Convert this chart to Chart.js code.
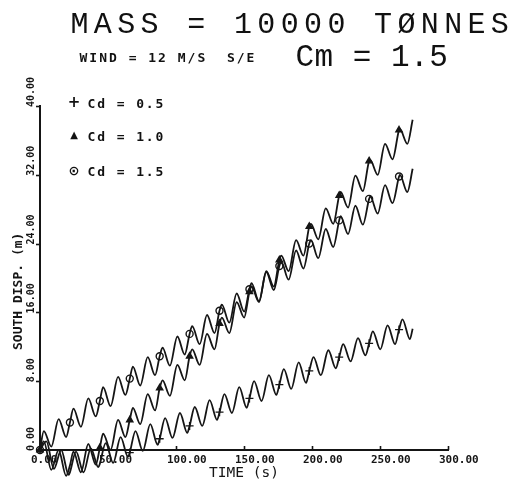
<!DOCTYPE html>
<html><head><meta charset="utf-8">
<script src="https://cdn.jsdelivr.net/npm/chart.js@4/dist/chart.umd.min.js"></script>
<style>
html,body{margin:0;padding:0;background:#fff;}
#wrap{position:relative;width:521px;height:482px;overflow:hidden;background:#fff;}
canvas{position:absolute;left:0;top:0;}
.t{position:absolute;white-space:pre;font-family:'DejaVu Sans Mono',monospace;color:#111;line-height:1;}
.big{font-family:'Liberation Mono','DejaVu Sans Mono',monospace;}
.s{position:absolute;width:16px;text-align:center;font-family:'DejaVu Sans',sans-serif;color:#111;line-height:1;}
</style></head><body>
<div id="wrap">
<canvas id="c" width="521" height="482"></canvas>
<div class="t big" style="left:70.5px;top:9.8px;font-size:30px;letter-spacing:5.35px;">MASS = 10000 TØNNES</div>
<div class="t" style="left:79.5px;top:50.5px;font-size:13px;font-weight:bold;letter-spacing:2px;">WIND = 12 M/S  S/E</div>
<div class="t big" style="left:295.5px;top:41.7px;font-size:31px;letter-spacing:0.5px;">Cm = 1.5</div>
<div class="s" style="left:66px;top:95px;font-size:15px;font-weight:bold;">+</div>
<div class="t" style="left:87.5px;top:96.75px;font-size:13px;font-weight:bold;letter-spacing:1.9px;">Cd = 0.5</div>
<div class="s" style="left:66px;top:130px;font-size:10px;">▲</div>
<div class="t" style="left:87.5px;top:129.75px;font-size:13px;font-weight:bold;letter-spacing:1.9px;">Cd = 1.0</div>
<div class="s" style="left:66px;top:164px;font-size:13px;font-weight:bold;">⊙</div>
<div class="t" style="left:87.5px;top:164.75px;font-size:13px;font-weight:bold;letter-spacing:1.9px;">Cd = 1.5</div>
</div>
<script>
// ---- data ----
const xTickLabels = ['0.00','50.00','100.00','150.00','200.00','250.00','300.00'];
const yTickLabels = ['0.00','8.00','16.00','24.00','32.00','40.00'];

// times (s) of the turning points of the Cd = 1.0 and Cd = 1.5 curves
const timeA = [0, 2.8, 8.3, 13.7, 19.2, 24.6, 30.1, 35.5, 41.0, 46.4,
  51.9, 57.4, 62.8, 68.3, 73.7, 79.2, 84.6, 90.1, 95.5, 101.0,
  106.4, 111.9, 117.4, 122.8, 128.3, 133.7, 139.2, 144.6, 150.1, 155.5,
  161.0, 166.4, 171.9, 177.4, 182.8, 188.3, 193.7, 199.2, 204.6, 210.1,
  215.6, 221.0, 226.5, 231.9, 237.4, 242.8, 248.3, 253.7, 259.2, 264.6,
  270.1, 274];
// south displacement (m), Cd = 1.0
const cd10 = [0, 1.0, -2.3, 0.0, -3.0, -0.2, -2.6, 0.7, -1.7, 1.9,
  0.0, 3.5, 1.5, 4.9, 3.0, 6.5, 4.6, 8.1, 6.3, 9.9,
  8.1, 11.7, 9.9, 13.5, 11.7, 15.4, 13.6, 17.2, 15.4, 19.0,
  17.2, 20.8, 19.0, 22.6, 20.8, 24.4, 22.6, 26.3, 24.5, 28.1,
  26.3, 30.0, 28.2, 31.9, 30.1, 33.7, 32.0, 35.6, 33.8, 37.3,
  35.6, 38.4];
// south displacement (m), Cd = 1.5
const cd15 = [0, 2.2, 0.4, 3.6, 1.5, 4.8, 2.7, 6.0, 3.9, 7.3,
  5.1, 8.5, 6.4, 9.7, 7.5, 10.8, 8.7, 11.9, 9.8, 13.2,
  11.1, 14.4, 12.3, 15.7, 13.6, 16.9, 14.8, 18.2, 16.1, 19.4,
  17.3, 20.7, 18.6, 21.9, 19.8, 23.2, 21.1, 24.4, 22.3, 25.7,
  23.6, 27.2, 25.1, 28.4, 26.2, 29.5, 27.5, 30.8, 28.7, 32.0,
  30.0, 32.7];
// times (s) of the turning points of the Cd = 0.5 curve
const timeB = [0, 4.7, 10.2, 15.6, 21.1, 26.5, 32.0, 37.4, 42.9, 48.3,
  53.8, 59.3, 64.7, 70.2, 75.6, 81.1, 86.5, 92.0, 97.4, 102.9,
  108.3, 113.8, 119.3, 124.7, 130.2, 135.6, 141.1, 146.5, 152.0, 157.4,
  162.9, 168.3, 173.8, 179.3, 184.7, 190.2, 195.6, 201.1, 206.5, 212.0,
  217.5, 222.9, 228.4, 233.8, 239.3, 244.7, 250.2, 255.6, 261.1, 266.5,
  272.0, 274];
// south displacement (m), Cd = 0.5
const cd05 = [0, 1.0, -2.2, 0.0, -2.9, -0.2, -2.6, 0.2, -2.0, 0.8,
  -1.5, 1.5, -0.8, 2.2, -0.1, 3.0, 0.6, 3.7, 1.4, 4.3,
  2.0, 5.0, 2.8, 5.8, 3.5, 6.5, 4.3, 7.3, 4.9, 8.0,
  5.7, 8.7, 6.4, 9.4, 7.1, 10.2, 7.8, 10.8, 8.7, 11.6,
  9.5, 12.3, 10.3, 13.0, 11.0, 13.8, 11.7, 14.5, 12.3, 15.2,
  12.9, 14.1];
// plotted symbols
const markTimes = [0, 22, 44, 66, 88, 110, 132, 154, 176, 198, 220, 242, 264];
const mark05 = [0, -2.6, -1.6, -0.3, 1.3, 2.8, 4.4, 6.0, 7.6, 9.2, 10.8, 12.4, 14.0];
const mark10 = [0, -1.8, 0.25, 3.5, 7.2, 10.9, 14.7, 18.4, 22.1, 26.0, 29.6, 33.6, 37.2];
const mark15 = [0, 3.2, 5.7, 8.3, 10.9, 13.5, 16.2, 18.7, 21.4, 24.0, 26.7, 29.2, 31.8];

function series(times, vals, mt, mv) {
  const pts = times.map((t, i) => ({x: t, y: vals[i], m: false}));
  mt.forEach((t, i) => {
    const f = pts.find(p => p.x === t);
    if (f) f.m = true; else pts.push({x: t, y: mv[i], m: true});
  });
  pts.sort((a, b) => a.x - b.x);
  return pts;
}

const INK = '#151515';
Chart.defaults.font.family = "'DejaVu Sans Mono', monospace";
Chart.defaults.color = INK;

const common = {
  borderColor: INK, borderWidth: 1.8, cubicInterpolationMode: 'monotone',
  clip: false, fill: false, pointHoverRadius: 0,
  pointBorderColor: INK, pointBorderWidth: 1.4
};

const deco = {
  id: 'deco',
  afterDraw(chart) {
    const ctx = chart.ctx, xs = chart.scales.x, ys = chart.scales.y, a = chart.chartArea;
    ctx.save();
    ctx.strokeStyle = INK; ctx.lineWidth = 1.6;
    ys.ticks.forEach(t => {
      const y = Math.round(ys.getPixelForValue(t.value)) + 0.5;
      ctx.beginPath(); ctx.moveTo(a.left - 4, y); ctx.lineTo(a.left, y); ctx.stroke();
    });
    xs.ticks.forEach(t => {
      const x = Math.round(xs.getPixelForValue(t.value)) + 0.5;
      ctx.beginPath(); ctx.moveTo(x, a.bottom); ctx.lineTo(x, a.bottom - 4); ctx.stroke();
    });
    ctx.fillStyle = INK; ctx.textAlign = 'left'; ctx.textBaseline = 'alphabetic';
    ctx.font = "bold 10px 'DejaVu Sans Mono'";
    ys.ticks.forEach((t, i) => {
      const y = ys.getPixelForValue(t.value);
      ctx.save(); ctx.translate(34, y + 1); ctx.rotate(-Math.PI / 2);
      ctx.fillText(yTickLabels[i], 0, 0); ctx.restore();
    });
    ctx.font = "bold 13px 'DejaVu Sans Mono'";
    ctx.save(); ctx.translate(22, 350); ctx.rotate(-Math.PI / 2);
    ctx.fillText('SOUTH DISP. (m)', 0, 0); ctx.restore();
    ctx.font = "14.5px 'DejaVu Sans Mono'";
    ctx.textAlign = 'center'; ctx.textBaseline = 'middle';
    ctx.fillText('TIME (s)', (a.left + a.right) / 2, 473);
    ctx.restore();
  }
};

new Chart(document.getElementById('c'), {
  type: 'line',
  data: {
    datasets: [
      Object.assign({label: 'Cd = 0.5', data: series(timeB, cd05, markTimes, mark05),
        pointStyle: 'cross', pointRadius: c => (c.raw && c.raw.m) ? 4 : 0}, common),
      Object.assign({label: 'Cd = 1.0', data: series(timeA, cd10, markTimes, mark10),
        pointStyle: 'triangle', pointBackgroundColor: INK, pointRadius: c => (c.raw && c.raw.m) ? 3.6 : 0}, common),
      Object.assign({label: 'Cd = 1.5', data: series(timeA, cd15, markTimes, mark15),
        pointStyle: 'circle', pointBackgroundColor: 'rgba(255,255,255,0)', pointRadius: c => (c.raw && c.raw.m) ? 3.5 : 0}, common)
    ]
  },
  options: {
    responsive: false, animation: false, devicePixelRatio: 1,
    layout: {padding: {left: 40, right: 73, top: 106, bottom: 11}},
    plugins: {legend: {display: false}, tooltip: {enabled: false}},
    scales: {
      x: {
        type: 'linear', min: 0, max: 300,
        grid: {display: false, drawTicks: false},
        border: {display: true, color: INK, width: 2},
        ticks: {stepSize: 50, autoSkip: false, maxRotation: 0, minRotation: 0,
          align: 'start', labelOffset: -9, padding: 5,
          font: {size: 11, weight: 'bold', lineHeight: 1},
          callback: (v, i) => xTickLabels[i]},
        title: {display: false}
      },
      y: {
        min: 0, max: 40,
        grid: {display: false, drawTicks: false},
        border: {display: true, color: INK, width: 2},
        ticks: {stepSize: 8, display: false}
      }
    }
  },
  plugins: [deco]
});
</script>
</body></html>
